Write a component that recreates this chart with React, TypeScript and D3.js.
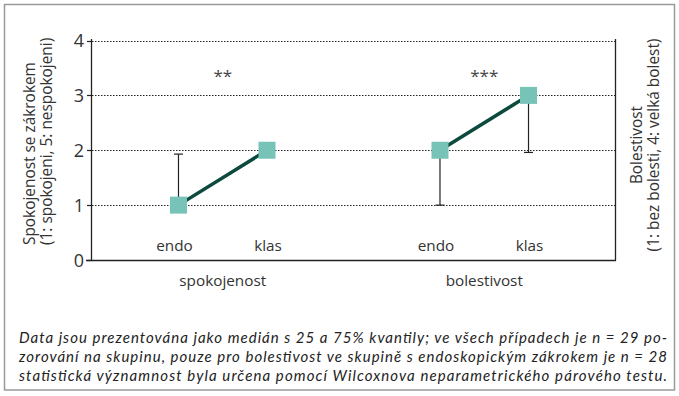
import React from "react";
import * as d3 from "d3";

const groups = ["spokojenost", "bolestivost"];
const methods = ["endo", "klas"];
const medians = [
  [1, 2],
  [2, 3],
];
const q25 = [
  [1, 2],
  [1, 1.96],
];
const q75 = [
  [1.93, 2],
  [2, 3],
];
const stars = ["**", "***"];
const yTicks = [0, 1, 2, 3, 4];
const leftTitle = ["Spokojenost se zákrokem", "(1: spokojeni, 5: nespokojeni)"];
const rightTitle = ["Bolestivost", "(1: bez bolesti, 4: velká bolest)"];
const caption = [
  "Data jsou prezentována jako medián s 25 a 75% kvantily; ve všech případech je n = 29 po-",
  "zorování na skupinu, pouze pro bolestivost ve skupině s endoskopickým zákrokem je n = 28",
  "statistická významnost byla určena pomocí Wilcoxnova neparametrického párového testu.",
];

const W = 679;
const H = 396;
const FONT = "'Open Sans', 'Noto Sans', sans-serif";
const CAP_FONT = "Lato, 'Open Sans', sans-serif";

export default function App() {
  const x0 = 92;
  const x1 = 615;
  const y = d3.scaleLinear().domain([0, 4]).range([260, 40.5]);
  const gx = d3.scaleBand().domain(groups).range([x0, x1]);
  const ix = d3.scalePoint().domain(methods).range([0, gx.bandwidth()]).padding(0.977);
  const labelDx: Record<string, number> = { endo: -4, klas: 1 };
  const line = d3
    .line<[number, number]>()
    .x((d) => d[0])
    .y((d) => d[1]);
  const sq = 17;

  return (
    <svg
      width={W}
      height={H}
      style={{ position: "absolute", left: 0, top: 0, background: "#fff" }}
      fontFamily={FONT}
    >
      <rect x={4.5} y={4.5} width={670} height={385.5} fill="none" stroke="#9a9a9a" strokeWidth={1.5} />

      {/* gridlines */}
      {yTicks
        .filter((t) => t > 0)
        .map((t) => (
          <line
            key={"g" + t}
            x1={x0}
            x2={x1}
            y1={Math.round(y(t)) + 0.5}
            y2={Math.round(y(t)) + 0.5}
            stroke="#222"
            strokeWidth={1}
            strokeDasharray="1.5,1.5"
          />
        ))}

      {/* axes */}
      <line x1={x0 - 0.5} x2={x0 - 0.5} y1={39} y2={260.5} stroke="#222" strokeWidth={1.3} />
      <line x1={x1 + 0.5} x2={x1 + 0.5} y1={39} y2={260.5} stroke="#222" strokeWidth={1.3} />
      <line x1={x0 - 6} x2={x1 + 1} y1={260.5} y2={260.5} stroke="#222" strokeWidth={1.3} />
      {yTicks.map((t) => (
        <g key={"t" + t}>
          <line x1={x0 - 5} x2={x0} y1={Math.round(y(t)) + 0.5} y2={Math.round(y(t)) + 0.5} stroke="#222" strokeWidth={1.2} />
          <text x={84} y={y(t) + 6.5} textAnchor="end" fontSize={18} fill="#333">
            {t}
          </text>
        </g>
      ))}

      {/* data */}
      {groups.map((g, gi) => {
        const gx0 = gx(g)!;
        const pts: [number, number][] = methods.map((m, mi) => [gx0 + ix(m)!, y(medians[gi][mi])]);
        return (
          <g key={g}>
            {methods.map((m, mi) => {
              const cx = gx0 + ix(m)!;
              const lo = q25[gi][mi];
              const hi = q75[gi][mi];
              const med = medians[gi][mi];
              const bars = [] as JSX.Element[];
              if (hi > med) {
                bars.push(
                  <g key={"hi" + m}>
                    <line x1={cx} x2={cx} y1={y(med)} y2={y(hi)} stroke="#222" strokeWidth={1.2} />
                    <line x1={cx - 4.5} x2={cx + 4.5} y1={y(hi)} y2={y(hi)} stroke="#222" strokeWidth={1.2} />
                  </g>
                );
              }
              if (lo < med) {
                bars.push(
                  <g key={"lo" + m}>
                    <line x1={cx} x2={cx} y1={y(med)} y2={y(lo)} stroke="#222" strokeWidth={1.2} />
                    <line x1={cx - 4.5} x2={cx + 4.5} y1={y(lo)} y2={y(lo)} stroke="#222" strokeWidth={1.2} />
                  </g>
                );
              }
              return <g key={m}>{bars}</g>;
            })}
            <path d={line(pts)!} stroke="#0b4a3c" strokeWidth={3.5} fill="none" />
            {pts.map((p, i) => (
              <rect key={i} x={p[0] - sq / 2} y={p[1] - sq / 2} width={sq} height={sq} fill="#78c3b7" />
            ))}
            {methods.map((m) => (
              <text
                key={"l" + m}
                x={gx0 + ix(m)! + labelDx[m]}
                y={251}
                textAnchor="middle"
                fontSize={15.3}
                fill="#333"
              >
                {m}
              </text>
            ))}
            <text x={gx0 + gx.bandwidth() / 2} y={286} textAnchor="middle" fontSize={15.3} fill="#333">
              {g}
            </text>
            <text x={gx0 + gx.bandwidth() / 2} y={82} textAnchor="middle" fontSize={17} fill="#444">
              {stars[gi]}
            </text>
          </g>
        );
      })}

      {/* axis titles */}
      <text transform="translate(35,245) rotate(-90)" textAnchor="start" fontSize={15.4} fill="#333">
        <tspan x={0} dy={0}>{leftTitle[0]}</tspan>
        <tspan x={0} dy={17}>{leftTitle[1]}</tspan>
      </text>
      <text transform="translate(642,145) rotate(-90)" textAnchor="middle" fontSize={15.4} fill="#333">
        <tspan x={0} dy={0}>{rightTitle[0]}</tspan>
        <tspan x={0} dy={17}>{rightTitle[1]}</tspan>
      </text>

      {/* caption */}
      {caption.map((c, i) => (
        <text
          key={"c" + i}
          x={19}
          y={343 + i * 19}
          fontSize={15}
          fontStyle="italic"
          fontFamily={CAP_FONT}
          fill="#222"
          textLength={648}
          lengthAdjust="spacing"
        >
          {c}
        </text>
      ))}
    </svg>
  );
}
